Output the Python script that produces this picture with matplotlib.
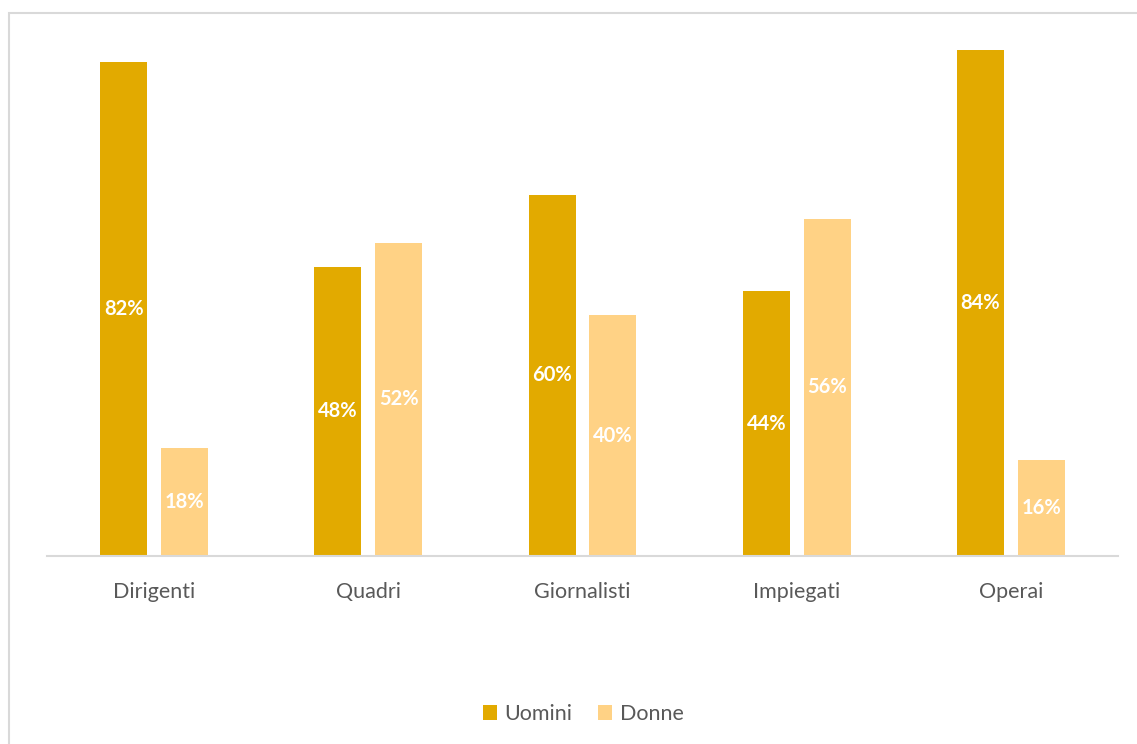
import matplotlib.pyplot as plt
import numpy as np
from matplotlib.patches import Rectangle

categorie = ['Dirigenti', 'Quadri', 'Giornalisti', 'Impiegati', 'Operai']
uomini = [82, 48, 60, 44, 84]
donne = [18, 52, 40, 56, 16]

col_u = '#E2AA00'
col_d = '#FFD285'

plt.rcParams['font.family'] = ['Lato', 'DejaVu Sans']

W, H = 1137, 744
fig = plt.figure(figsize=(W / 100, H / 100), dpi=100)
ax = fig.add_axes([47 / W, 1 - 556 / H, (1118 - 47) / W, (556 - 14) / H])

x = np.arange(len(categorie))
bw = 0.219
off = 0.142
b1 = ax.bar(x - off, uomini, bw, color=col_u, label='Uomini')
b2 = ax.bar(x + off, donne, bw, color=col_d, label='Donne')

for bars, vals in ((b1, uomini), (b2, donne)):
    for b, v in zip(bars, vals):
        ax.text(b.get_x() + b.get_width() / 2, v / 2, f'{v}%', ha='center', va='center',
                color='white', fontsize=14.5, fontweight='bold')

ax.set_xlim(-0.5, len(categorie) - 0.5)
ax.set_ylim(0, 90)
ax.set_xticks(x)
ax.set_xticklabels(categorie, fontsize=15.5, color='#595959')
ax.tick_params(axis='x', length=0, pad=19)
ax.set_yticks([])
for s in ['top', 'left', 'right']:
    ax.spines[s].set_visible(False)
ax.spines['bottom'].set_color('#D9D9D9')
ax.spines['bottom'].set_linewidth(1.5)

fig.legend(handles=[b1, b2], loc='center', bbox_to_anchor=(583 / W, 1 - 714 / H), ncol=2,
           frameon=False, fontsize=15.5, labelcolor='#595959', handlelength=0.65,
           handleheight=0.65, handletextpad=0.35, columnspacing=1.2)

fig.patches.append(Rectangle((8.5 / W, -0.01), 1.0, 1 - 12.5 / H + 0.01,
                             transform=fig.transFigure, fill=False, edgecolor='#D9D9D9',
                             linewidth=1.5, figure=fig))

fig.savefig('out.png', dpi=100)
